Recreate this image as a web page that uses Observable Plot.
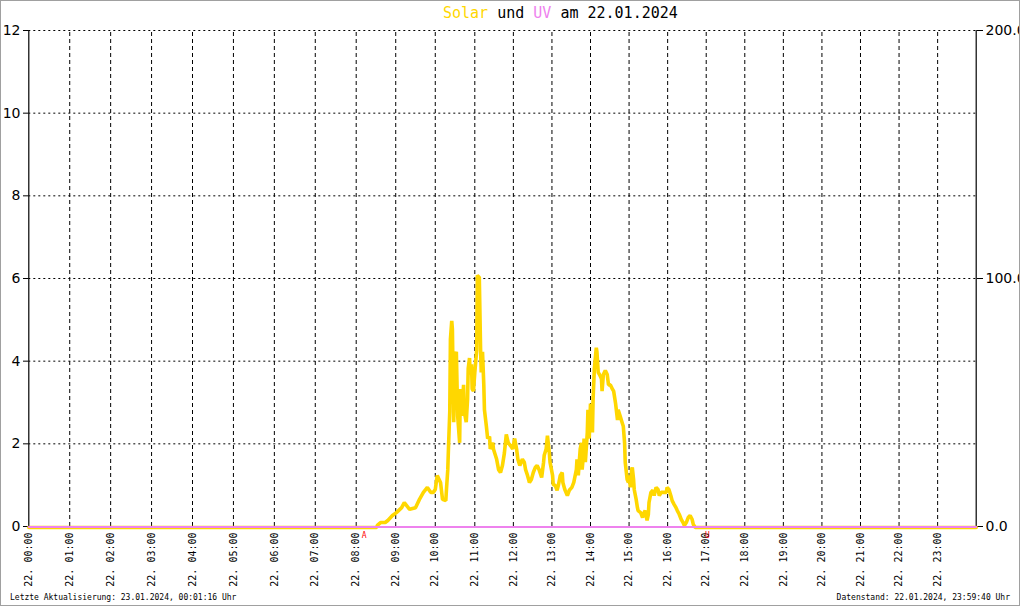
<!DOCTYPE html>
<html><head><meta charset="utf-8">
<script src="https://cdn.jsdelivr.net/npm/d3@7"></script>
<script src="https://cdn.jsdelivr.net/npm/@observablehq/plot@0.6"></script>
<style>
body{margin:0;background:#fff}
#wrap{position:relative;width:1018px;height:604px;border:1px solid #a0a0a0;overflow:hidden;background:#fff}
#title{height:22px;font:15px "DejaVu Sans Mono",monospace;line-height:24px;white-space:pre;padding-left:442px}
#chart svg{display:block}
#foot{position:absolute;left:0;right:0;top:591px;height:12px;font:8px "DejaVu Sans Mono",monospace;line-height:12px;display:flex;justify-content:space-between;padding:0 9px 0 9px;white-space:pre}
</style></head>
<body><div id="wrap"><div id="title"><span style="color:#FFD700">Solar</span> und <span style="color:#EE82EE">UV</span> am 22.01.2024</div><div id="chart"></div><div id="foot"><span id="f1"></span><span id="f2"></span></div></div>
<script>
// Solar series: [minutes since midnight, value on left axis]
const solarSeries = [
[0,0],[511,0],[512,0.05],[517,0.12],[524,0.12],[528,0.17],[535,0.29],[541,0.36],[549,0.48],[553,0.60],
[561,0.44],[570,0.48],[576,0.68],[582,0.85],[588,0.97],[593,0.85],[597,0.85],[600,0.92],[603,1.26],[608,1.09],
[611,0.68],[616,0.65],[617,0.92],[619,1.40],[620,1.90],[622,2.80],[623,4.55],[625,5.00],[626,4.80],[628,2.55],
[629,3.60],[631,4.20],[632,4.25],[634,2.70],[637,2.05],[638,3.35],[640,2.70],[643,3.45],[644,2.80],[647,2.55],
[649,3.10],[650,3.85],[652,4.10],[653,3.70],[655,3.95],[656,3.35],[658,3.30],[660,3.75],[663,4.30],[664,6.10],
[667,6.05],[669,4.30],[670,3.75],[672,4.25],[674,3.45],[675,2.85],[678,2.45],[680,2.15],[683,2.20],[684,1.90],
[688,2.05],[689,1.90],[694,1.65],[697,1.40],[700,1.33],[703,1.50],[706,1.80],[709,2.25],[712,2.05],[716,1.97],
[719,1.90],[722,2.15],[725,1.90],[727,1.65],[730,1.50],[734,1.65],[737,1.58],[739,1.40],[742,1.26],[745,1.09],
[748,1.16],[751,1.33],[754,1.45],[757,1.50],[760,1.40],[764,1.21],[767,1.58],[768,1.75],[771,1.90],[773,2.22],
[776,1.80],[777,1.58],[781,1.26],[782,1.04],[785,1.02],[788,0.90],[790,1.02],[793,1.26],[796,1.33],[797,1.09],
[800,0.92],[804,0.77],[807,0.90],[811,0.97],[814,1.09],[818,1.40],[819,1.65],[821,1.26],[824,1.90],[826,2.05],
[827,1.40],[829,1.75],[830,2.15],[832,1.58],[835,2.30],[836,2.85],[838,2.15],[840,3.00],[843,2.30],[844,3.10],
[846,3.85],[849,4.35],[850,4.25],[852,3.75],[854,3.70],[857,3.60],[858,3.30],[860,3.70],[863,3.80],[866,3.70],
[868,3.45],[871,3.45],[874,3.35],[876,3.30],[879,3.00],[882,2.60],[883,2.85],[886,2.70],[890,2.50],[891,2.45],
[893,2.05],[894,1.58],[897,1.16],[899,1.09],[900,1.26],[902,0.97],[904,1.40],[905,1.45],[907,1.16],[908,0.92],
[911,0.68],[913,0.48],[914,0.41],[918,0.36],[921,0.24],[922,0.32],[925,0.41],[928,0.17],[930,0.32],[931,0.60],
[934,0.85],[937,0.90],[939,0.77],[942,0.97],[945,0.92],[947,0.77],[950,0.85],[953,0.85],[958,0.85],[959,0.97],
[962,0.92],[965,0.77],[967,0.65],[970,0.56],[973,0.48],[975,0.41],[978,0.32],[981,0.20],[984,0.12],[986,0.05],
[989,0.12],[992,0.24],[995,0.29],[998,0.20],[1000,0.07],[1003,0],[1440,0]
];
// UV series (all zero this day)
const uvSeries = [[0,0],[1440,0]];
const dayPrefix = "22.";
const hourLabels = ["00:00","01:00","02:00","03:00","04:00","05:00","06:00","07:00","08:00","09:00","10:00","11:00",
  "12:00","13:00","14:00","15:00","16:00","17:00","18:00","19:00","20:00","21:00","22:00","23:00"];
const leftTicks = [0,2,4,6,8,10,12];
const rightTicks = [0,6,12];
const rightTickLabels = ["0.0","100.0","200.0"];
const sunLabels = ["A","U"];
const sunMinutes = [492,1022];
const footerLeft = "Letzte Aktualisierung: 23.01.2024, 00:01:16 Uhr";
const footerRight = "Datenstand: 22.01.2024, 23:59:40 Uhr";

document.getElementById("f1").textContent = footerLeft;
document.getElementById("f2").textContent = footerRight;

const solar = solarSeries.map(([m,v]) => ({m, v}));
const uv = uvSeries.map(([m,v]) => ({m, v}));
const hours = hourLabels.map((l,i) => ({m: i*60, label: dayPrefix + " " + l}));
const sun = sunLabels.map((l,i) => ({m: sunMinutes[i], label: l}));

const chart = Plot.plot({
  width: 1018, height: 568,
  marginLeft: 27, marginRight: 43, marginTop: 7, marginBottom: 65,
  style: {fontFamily: "DejaVu Sans", background: "#fff", color: "#000"},
  x: {type: "linear", domain: [0, 480, 660, 1440], range: [27.3, 354.7, 473.3, 974.7], axis: null},
  y: {type: "linear", domain: [0, 12], axis: null},
  marks: [
    Plot.ruleY(leftTicks.slice(1), {x1: 0, x2: 1440, stroke: "#000", strokeDasharray: "2,3"}),
    Plot.ruleX(hours.slice(1), {x: "m", y1: 0, y2: 12, stroke: "#000", strokeDasharray: "4,3"}),
    Plot.ruleX([0, 1440], {y1: 0, y2: 12, stroke: "#000", strokeWidth: 1.2}),
    Plot.axisY({anchor: "left", ticks: leftTicks, tickSize: 5, tickPadding: 3, fontSize: 14, label: null, tickFormat: d => String(d)}),
    Plot.axisY({anchor: "right", ticks: rightTicks, tickSize: 6, tickPadding: 3, fontSize: 14, label: null, tickFormat: (d,i) => rightTickLabels[rightTicks.indexOf(d)]}),
    Plot.line(solar, {x: "m", y: "v", stroke: "#FFD700", strokeWidth: 3.6, dy: 1, strokeLinejoin: "miter"}),
    Plot.line(uv, {x: "m", y: "v", stroke: "#EE82EE", strokeWidth: 2, dy: 0.5}),
    Plot.text(hours, {x: "m", y: 0, text: "label", rotate: -90, textAnchor: "end", dy: 6, fontFamily: "DejaVu Sans Mono", fontSize: 10, fill: "#000"}),
    Plot.text(sun, {x: "m", y: 0, text: "label", dy: 6, fontFamily: "DejaVu Sans Mono", fontSize: 8, fill: "#ff0000", lineAnchor: "top"})
  ]
});
document.getElementById("chart").appendChild(chart);
</script>
</body></html>
